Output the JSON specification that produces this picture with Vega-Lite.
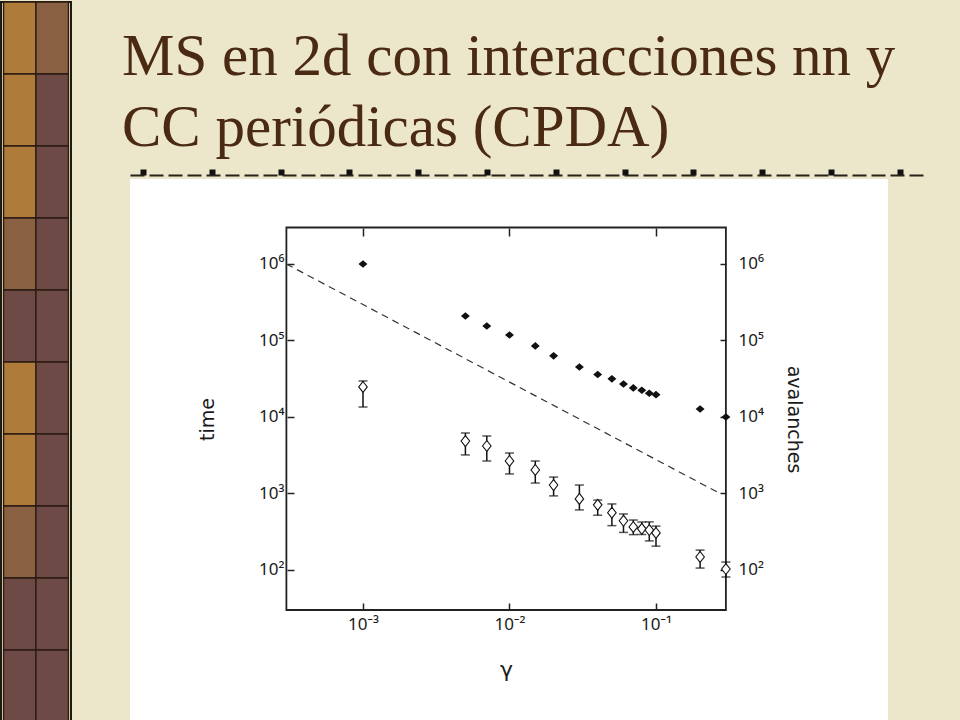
{
  "$schema": "https://vega.github.io/schema/vega-lite/v6.json",
  "background": "#ECE6CA",
  "padding": {"left": 0, "top": 0, "right": 40, "bottom": 0},
  "spacing": 50,
  "datasets": {
    "strip": [
      {"col": "L", "row": 0, "tone": "tan"}, {"col": "R", "row": 0, "tone": "mid"},
      {"col": "L", "row": 1, "tone": "tan"}, {"col": "R", "row": 1, "tone": "brown"},
      {"col": "L", "row": 2, "tone": "tan"}, {"col": "R", "row": 2, "tone": "brown"},
      {"col": "L", "row": 3, "tone": "mid"}, {"col": "R", "row": 3, "tone": "brown"},
      {"col": "L", "row": 4, "tone": "brown"}, {"col": "R", "row": 4, "tone": "brown"},
      {"col": "L", "row": 5, "tone": "tan"}, {"col": "R", "row": 5, "tone": "brown"},
      {"col": "L", "row": 6, "tone": "tan"}, {"col": "R", "row": 6, "tone": "brown"},
      {"col": "L", "row": 7, "tone": "mid"}, {"col": "R", "row": 7, "tone": "brown"},
      {"col": "L", "row": 8, "tone": "brown"}, {"col": "R", "row": 8, "tone": "brown"},
      {"col": "L", "row": 9, "tone": "brown"}, {"col": "R", "row": 9, "tone": "brown"}
    ],
    "heading": [
      {"line": 1, "text": "MS en 2d con interacciones nn y"},
      {"line": 2, "text": "CC periódicas (CPDA)"}
    ],
    "frame": [
      {"gammaMin": 0.0003, "gammaMax": 0.3, "valueMin": 30, "valueMax": 3000000}
    ],
    "guide": [
      {"gamma": 0.0003, "value": 1000000},
      {"gamma": 0.2735, "value": 1000}
    ],
    "time": [
      {"gamma": 0.001, "time": 24700, "lo": 13500, "hi": 29600},
      {"gamma": 0.005, "time": 4850, "lo": 3190, "hi": 6180},
      {"gamma": 0.007, "time": 4180, "lo": 2660, "hi": 5650},
      {"gamma": 0.01, "time": 2660, "lo": 1800, "hi": 3380},
      {"gamma": 0.015, "time": 2030, "lo": 1370, "hi": 2660},
      {"gamma": 0.02, "time": 1290, "lo": 930, "hi": 1640},
      {"gamma": 0.03, "time": 850, "lo": 610, "hi": 1290},
      {"gamma": 0.04, "time": 710, "lo": 520, "hi": 820},
      {"gamma": 0.05, "time": 560, "lo": 380, "hi": 730},
      {"gamma": 0.06, "time": 440, "lo": 310, "hi": 540},
      {"gamma": 0.07, "time": 365, "lo": 290, "hi": 450},
      {"gamma": 0.08, "time": 345, "lo": 290, "hi": 425},
      {"gamma": 0.09, "time": 333, "lo": 240, "hi": 425},
      {"gamma": 0.1, "time": 305, "lo": 205, "hi": 375},
      {"gamma": 0.2, "time": 148, "lo": 106, "hi": 182},
      {"gamma": 0.3, "time": 103, "lo": 81, "hi": 127}
    ],
    "avalanches": [
      {"gamma": 0.001, "avalanches": 1000000},
      {"gamma": 0.005, "avalanches": 209000},
      {"gamma": 0.007, "avalanches": 155000},
      {"gamma": 0.01, "avalanches": 118000},
      {"gamma": 0.015, "avalanches": 85000},
      {"gamma": 0.02, "avalanches": 63000},
      {"gamma": 0.03, "avalanches": 45000},
      {"gamma": 0.04, "avalanches": 36000},
      {"gamma": 0.05, "avalanches": 31500},
      {"gamma": 0.06, "avalanches": 27000},
      {"gamma": 0.07, "avalanches": 24000},
      {"gamma": 0.08, "avalanches": 22400},
      {"gamma": 0.09, "avalanches": 20400},
      {"gamma": 0.1, "avalanches": 19600},
      {"gamma": 0.2, "avalanches": 12700},
      {"gamma": 0.3, "avalanches": 10000}
    ]
  },
  "hconcat": [
    {
      "width": 70,
      "height": 720,
      "view": {"fill": "#D9CDA2", "stroke": "#1E1A14", "strokeWidth": 2},
      "data": {"name": "strip"},
      "mark": {"type": "rect", "stroke": "#2A1B12", "strokeWidth": 1.3},
      "encoding": {
        "x": {"field": "col", "type": "nominal", "scale": {"paddingInner": 0, "paddingOuter": 0.08}, "axis": null},
        "y": {"field": "row", "type": "ordinal", "scale": {"paddingInner": 0, "paddingOuter": 0}, "axis": null},
        "fill": {"field": "tone", "type": "nominal", "scale": {"domain": ["tan", "mid", "brown"], "range": ["#AE7B3B", "#8A6043", "#6D4A45"]}, "legend": null}
      }
    },
    {
      "spacing": 1,
      "vconcat": [
        {
          "width": 797,
          "height": 173,
          "view": {"stroke": null},
          "data": {"name": "heading"},
          "mark": {"type": "text", "font": "Liberation Serif", "fontSize": 59, "fill": "#4A2A12", "align": "left", "baseline": "alphabetic", "dx": -8},
          "encoding": {
            "text": {"field": "text"},
            "x": {
              "datum": 0,
              "type": "quantitative",
              "scale": {"domain": [0, 11.584], "nice": false, "zero": false},
              "axis": {
                "orient": "bottom",
                "values": [0.189, 1.189, 2.189, 3.189, 4.189, 5.189, 6.189, 7.189, 8.189, 9.189, 10.189, 11.189],
                "domain": true,
                "domainDash": [14, 5],
                "domainColor": "#26221A",
                "domainWidth": 2,
                "ticks": true,
                "tickSize": -6,
                "tickWidth": 6,
                "tickColor": "#111111",
                "labels": false,
                "grid": false,
                "title": null
              }
            },
            "y": {"field": "line", "type": "ordinal", "scale": {"type": "point", "padding": 0.718, "align": 0.72}, "axis": null}
          }
        },
        {
          "width": 758,
          "height": 545,
          "view": {"fill": "white", "stroke": null},
          "resolve": {"axis": {"x": "independent", "y": "independent"}},
          "layer": [
            {
              "data": {"name": "frame"},
              "mark": {"type": "rect", "fillOpacity": 0, "stroke": "#222222", "strokeWidth": 1.8},
              "encoding": {
                "x": {
                  "field": "gammaMin", "type": "quantitative",
                  "scale": {"type": "log", "domain": [0.00002568, 3.834], "nice": false, "zero": false},
                  "axis": {
                    "orient": "bottom", "offset": -114,
                    "values": [0.001, 0.01, 0.1],
                    "labelExpr": "datum.value < 0.005 ? '10⁻³' : datum.value < 0.05 ? '10⁻²' : '10⁻¹'",
                    "labelFont": "Noto Sans", "labelFontSize": 17, "labelColor": "#1A1A1A", "labelPadding": 13,
                    "tickSize": -7, "tickWidth": 1.5, "tickColor": "#222222",
                    "domain": false, "grid": false,
                    "title": "γ", "titleFont": "DejaVu Sans", "titleFontSize": 22, "titleFontWeight": "normal", "titleColor": "#1A1A1A",
                    "titleX": 376, "titleY": 59, "titleBaseline": "middle", "titleAlign": "center"
                  }
                },
                "x2": {"field": "gammaMax"},
                "y": {
                  "field": "valueMin", "type": "quantitative",
                  "scale": {"type": "log", "domain": [0.97, 12915000], "nice": false, "zero": false},
                  "axis": {
                    "orient": "left", "offset": -157,
                    "values": [100, 1000, 10000, 100000, 1000000],
                    "labelExpr": "datum.value < 500 ? '10²' : datum.value < 5000 ? '10³' : datum.value < 50000 ? '10⁴' : datum.value < 500000 ? '10⁵' : '10⁶'",
                    "labelFont": "Noto Sans", "labelFontSize": 17, "labelColor": "#1A1A1A", "labelPadding": 10,
                    "tickSize": -7, "tickWidth": 1.5, "tickColor": "#222222",
                    "domain": false, "grid": false,
                    "title": "time", "titleFont": "DejaVu Sans", "titleFontSize": 19, "titleFontWeight": "normal", "titleColor": "#1A1A1A",
                    "titleAngle": -90, "titleX": -80, "titleY": 240, "titleBaseline": "middle", "titleAlign": "center"
                  }
                },
                "y2": {"field": "valueMax"}
              }
            },
            {
              "data": {"name": "guide"},
              "mark": {"type": "line", "strokeDash": [7, 5], "strokeWidth": 1.2, "color": "#333333"},
              "encoding": {
                "x": {
                  "field": "gamma", "type": "quantitative", "scale": {"type": "log"},
                  "axis": {
                    "orient": "top", "offset": -49,
                    "values": [0.001, 0.01, 0.1],
                    "labels": false, "tickSize": -8, "tickWidth": 1.5, "tickColor": "#222222",
                    "domain": false, "grid": false, "title": null
                  }
                },
                "y": {
                  "field": "value", "type": "quantitative", "scale": {"type": "log"},
                  "axis": {
                    "orient": "right", "offset": -162,
                    "values": [100, 1000, 10000, 100000, 1000000],
                    "labelExpr": "datum.value < 500 ? '10²' : datum.value < 5000 ? '10³' : datum.value < 50000 ? '10⁴' : datum.value < 500000 ? '10⁵' : '10⁶'",
                    "labelFont": "Noto Sans", "labelFontSize": 17, "labelColor": "#1A1A1A", "labelPadding": 18,
                    "tickSize": -6, "tickWidth": 1.5, "tickColor": "#222222",
                    "domain": false, "grid": false,
                    "title": "avalanches", "titleFont": "DejaVu Sans", "titleFontSize": 19, "titleFontWeight": "normal", "titleColor": "#1A1A1A",
                    "titleAngle": 90, "titleX": 67, "titleY": 240, "titleBaseline": "middle", "titleAlign": "center"
                  }
                }
              }
            },
            {
              "data": {"name": "time"},
              "mark": {"type": "rule", "strokeWidth": 1.5, "color": "#111111"},
              "encoding": {
                "x": {"field": "gamma", "type": "quantitative", "scale": {"type": "log"}, "axis": null},
                "y": {"field": "lo", "type": "quantitative", "scale": {"type": "log"}, "axis": null},
                "y2": {"field": "hi"}
              }
            },
            {
              "data": {"name": "time"},
              "mark": {"type": "tick", "orient": "horizontal", "size": 9, "thickness": 1.5, "color": "#111111"},
              "encoding": {
                "x": {"field": "gamma", "type": "quantitative", "scale": {"type": "log"}, "axis": null},
                "y": {"field": "lo", "type": "quantitative", "scale": {"type": "log"}, "axis": null}
              }
            },
            {
              "data": {"name": "time"},
              "mark": {"type": "tick", "orient": "horizontal", "size": 9, "thickness": 1.5, "color": "#111111"},
              "encoding": {
                "x": {"field": "gamma", "type": "quantitative", "scale": {"type": "log"}, "axis": null},
                "y": {"field": "hi", "type": "quantitative", "scale": {"type": "log"}, "axis": null}
              }
            },
            {
              "data": {"name": "time"},
              "mark": {"type": "point", "shape": "M0,-1.15L0.9,0L0,1.15L-0.9,0Z", "filled": true, "fill": "white", "stroke": "#111111", "strokeWidth": 1.1, "size": 90, "opacity": 1},
              "encoding": {
                "x": {"field": "gamma", "type": "quantitative", "scale": {"type": "log"}, "axis": null},
                "y": {"field": "time", "type": "quantitative", "scale": {"type": "log"}, "axis": null}
              }
            },
            {
              "data": {"name": "avalanches"},
              "mark": {"type": "point", "shape": "M0,-0.85L1,0L0,0.85L-1,0Z", "filled": true, "color": "#111111", "size": 80, "opacity": 1},
              "encoding": {
                "x": {"field": "gamma", "type": "quantitative", "scale": {"type": "log"}, "axis": null},
                "y": {"field": "avalanches", "type": "quantitative", "scale": {"type": "log"}, "axis": null}
              }
            }
          ]
        }
      ]
    }
  ],
  "config": {
    "view": {"stroke": null},
    "axis": {"grid": false}
  }
}
